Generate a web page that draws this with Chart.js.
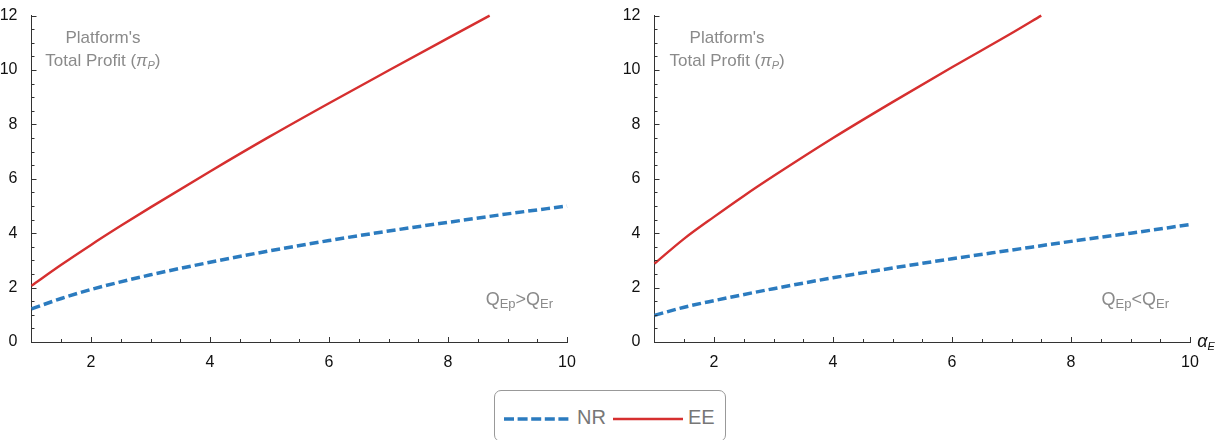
<!DOCTYPE html>
<html>
<head>
<meta charset="utf-8">
<script src="https://cdn.jsdelivr.net/npm/chart.js@4/dist/chart.umd.min.js"></script>
<style>
  body { margin: 0; background: #fff; }
  #wrap { position: relative; width: 1232px; height: 440px; overflow: hidden; }
  #grafico-1 { position: absolute; left: 0; top: 0; }
  #grafico-2 { position: absolute; left: 616px; top: 0; }
  #legenda {
    position: absolute; left: 494px; top: 390px; width: 232px; height: 52px;
    border: 1px solid #999; border-radius: 7px; box-sizing: border-box;
    font-family: "Liberation Sans", Arial, sans-serif; font-size: 20px; color: #777;
  }
  #legenda svg { position: absolute; top: 26px; }
  #legenda span { position: absolute; top: 16px; line-height: 20px; }
</style>
</head>
<body>
<div id="wrap">
  <canvas id="grafico-1" width="616" height="380"></canvas>
  <canvas id="grafico-2" width="616" height="380"></canvas>
  <div id="legenda">
    <svg style="left:8px" width="68" height="4"><line x1="1" y1="2" x2="68" y2="2" stroke="#2b7bbf" stroke-width="3.5" stroke-dasharray="10,3.6"/></svg>
    <span style="left:82px">NR</span>
    <svg style="left:118px" width="70" height="4"><line x1="0" y1="2" x2="70" y2="2" stroke="#d62f2f" stroke-width="2.5"/></svg>
    <span style="left:193px">EE</span>
  </div>
</div>
<script>
// dados
const xTicks = [2, 4, 6, 8, 10];
const yTicks = [0, 2, 4, 6, 8, 10, 12];

const xNR = [1, 1.5, 2, 3, 4, 5, 6, 7, 8, 9, 10];
const nrEsq = [1.22, 1.6, 1.93, 2.47, 2.93, 3.35, 3.73, 4.08, 4.4, 4.71, 5.0];
const nrDir = [0.98, 1.28, 1.52, 1.96, 2.36, 2.72, 3.06, 3.38, 3.7, 4.0, 4.32];

const xEEEsq = [1, 1.5, 2, 2.5, 3, 4, 5, 6, 7, 8, 8.7];
const eeEsq = [2.07, 2.84, 3.57, 4.27, 4.95, 6.27, 7.55, 8.78, 9.98, 11.17, 12.0];
const xEEDir = [1, 1.5, 2, 2.5, 3, 4, 5, 6, 7, 7.5];
const eeDir = [2.88, 3.8, 4.6, 5.37, 6.1, 7.5, 8.82, 10.1, 11.35, 12.0];

const azul = '#2b7bbf';
const vermelho = '#d62f2f';
const fonte = '"Liberation Sans", Arial, sans-serif';

function pontos(xs, ys) {
  return xs.map((x, i) => ({ x: x, y: ys[i] }));
}

// texto com subscritos: lista de pedacos {t, s, it, dy}
function textoRico(ctx, partes, cx, cy, cor) {
  let total = 0;
  partes.forEach(p => {
    ctx.font = (p.it ? 'italic ' : '') + p.s + 'px ' + fonte;
    p.w = ctx.measureText(p.t).width;
    total += p.w;
  });
  let x = cx - total / 2;
  ctx.fillStyle = cor;
  ctx.textAlign = 'left';
  ctx.textBaseline = 'alphabetic';
  partes.forEach(p => {
    ctx.font = (p.it ? 'italic ' : '') + p.s + 'px ' + fonte;
    ctx.fillText(p.t, x, cy + (p.dy || 0));
    x += p.w;
  });
}

const decor = {
  id: 'decor',
  afterDraw(chart, args, opts) {
    const ctx = chart.ctx;
    const sx = chart.scales.x, sy = chart.scales.y;
    ctx.save();
    ctx.strokeStyle = '#333';
    ctx.lineWidth = 1;
    ctx.beginPath();
    for (let v = 1.5; v <= 10; v += 0.5) {
      const px = Math.round(sx.getPixelForValue(v)) + 0.5;
      const len = (v % 2 === 0) ? 5 : 3;
      ctx.moveTo(px, sy.bottom);
      ctx.lineTo(px, sy.bottom - len);
    }
    for (let v = 0.5; v <= 12; v += 0.5) {
      const py = Math.round(sy.getPixelForValue(v)) + 0.5;
      const len = (v % 2 === 0) ? 5 : 3;
      ctx.moveTo(sx.left, py);
      ctx.lineTo(sx.left + len, py);
    }
    ctx.stroke();

    const cinza = '#8a8a8a';
    const ax = sx.getPixelForValue(opts.tituloX);
    textoRico(ctx, [{ t: "Platform's", s: 17 }], ax, sy.getPixelForValue(11.0), cinza);
    textoRico(ctx, [
      { t: 'Total Profit (', s: 17 },
      { t: 'π', s: 17, it: true },
      { t: 'P', s: 11, it: true, dy: 3 },
      { t: ')', s: 17 }
    ], ax, sy.getPixelForValue(10.15), cinza);

    textoRico(ctx, [
      { t: 'Q', s: 18 }, { t: 'Ep', s: 13, dy: 3 },
      { t: opts.sinal, s: 18 },
      { t: 'Q', s: 18 }, { t: 'Er', s: 13, dy: 3 }
    ], sx.getPixelForValue(opts.notaX), sy.getPixelForValue(1.35), cinza);

    if (opts.eixoX) {
      textoRico(ctx, [
        { t: 'α', s: 18, it: true }, { t: 'E', s: 11, it: true, dy: 3 }
      ], sx.right + 16, sy.bottom + 5, '#111');
    }
    ctx.restore();
  }
};

function criarGrafico(idGrafico, nr, xEE, ee, larguraY, padDir, extra) {
  const ctx = document.getElementById(idGrafico).getContext('2d');
  return new Chart(ctx, {
    type: 'line',
    data: {
      datasets: [{
        label: 'NR',
        data: pontos(xNR, nr),
        borderColor: azul,
        borderWidth: 3.5,
        borderDash: [9, 4],
        pointRadius: 0,
        cubicInterpolationMode: 'monotone',
        clip: false
      }, {
        label: 'EE',
        data: pontos(xEE, ee),
        borderColor: vermelho,
        borderWidth: 2.4,
        pointRadius: 0,
        cubicInterpolationMode: 'monotone',
        clip: false
      }]
    },
    options: {
      responsive: false,
      animation: false,
      devicePixelRatio: 1,
      layout: { padding: { left: 0, right: padDir, top: 12, bottom: 0 } },
      plugins: {
        legend: { display: false },
        tooltip: { enabled: false },
        decor: extra
      },
      scales: {
        x: {
          type: 'linear', min: 1, max: 10,
          grid: { display: false },
          border: { color: '#333', width: 1 },
          afterBuildTicks: s => { s.ticks = xTicks.map(v => ({ value: v })); },
          afterFit: s => { s.height = 38; },
          ticks: { color: '#111', padding: 3, maxRotation: 0, font: { family: fonte, size: 16 } }
        },
        y: {
          type: 'linear', min: 0, max: 12,
          grid: { display: false },
          border: { color: '#333', width: 1 },
          afterBuildTicks: s => { s.ticks = yTicks.map(v => ({ value: v })); },
          afterFit: s => { s.width = larguraY; },
          ticks: { color: '#111', padding: 6, font: { family: fonte, size: 16 } }
        }
      }
    },
    plugins: [decor]
  });
}

criarGrafico('grafico-1', nrEsq, xEEEsq, eeEsq, 31.5, 49, { tituloX: 2.2, notaX: 9.2, sinal: '>', eixoX: false });
criarGrafico('grafico-2', nrDir, xEEDir, eeDir, 38.5, 42, { tituloX: 2.22, notaX: 9.08, sinal: '<', eixoX: true });
</script>
</body>
</html>
